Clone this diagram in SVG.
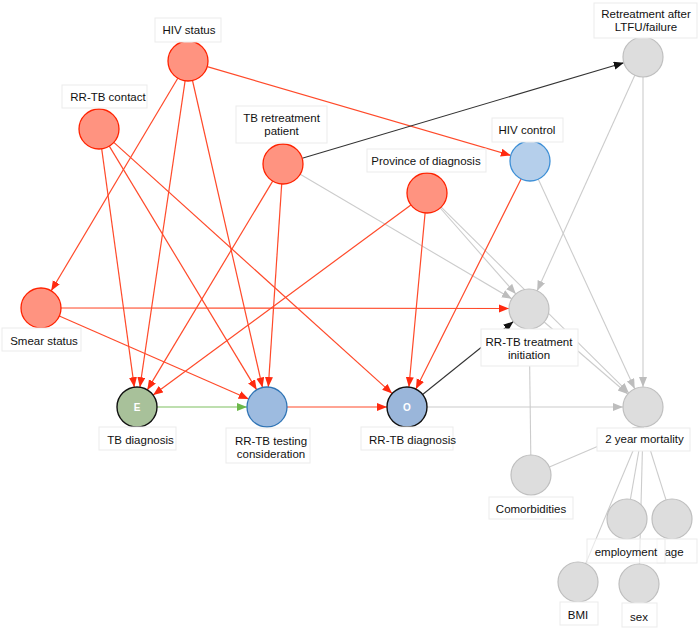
<svg xmlns="http://www.w3.org/2000/svg" width="700" height="631" viewBox="0 0 700 631">
<defs>
<marker id="ar" markerUnits="userSpaceOnUse" markerWidth="11" markerHeight="9" refX="10" refY="4" orient="auto"><path d="M0,0 L10,4 L0,8 z" fill="#ff2a10"/></marker>
<marker id="ag" markerUnits="userSpaceOnUse" markerWidth="11" markerHeight="9" refX="10" refY="4" orient="auto"><path d="M0,0 L10,4 L0,8 z" fill="#bdbdbd"/></marker>
<marker id="ak" markerUnits="userSpaceOnUse" markerWidth="11" markerHeight="9" refX="10" refY="4" orient="auto"><path d="M0,0 L10,4 L0,8 z" fill="#111"/></marker>
<marker id="agr" markerUnits="userSpaceOnUse" markerWidth="11" markerHeight="9" refX="10" refY="4" orient="auto"><path d="M0,0 L10,4 L0,8 z" fill="#6cb84a"/></marker>
</defs>
<style>
.r{stroke:#ff4a2a;stroke-width:1.2;fill:none;marker-end:url(#ar)}
.g{stroke:#cccccc;stroke-width:1.1;fill:none;marker-end:url(#ag)}
.k{stroke:#333333;stroke-width:1.1;fill:none;marker-end:url(#ak)}
.gr{stroke:#a9d494;stroke-width:1.3;fill:none;marker-end:url(#agr)}
.lb{fill:#ffffff;stroke:#ebebeb;stroke-width:1}
.t{font-family:"Liberation Sans",Arial,sans-serif;font-size:11.5px;fill:#111;text-anchor:middle}
.in{font-family:"Liberation Sans",Arial,sans-serif;font-size:10px;font-weight:bold;fill:#ffffff;text-anchor:middle}
.nr{fill:#ff9380;stroke:#ff2200;stroke-width:1.3}
.ngy{fill:#dddddd;stroke:#bfbfbf;stroke-width:1.2}
</style>
<rect width="700" height="631" fill="#ffffff"/>
<g id="connectors">
<line class="r" x1="207.2" y1="66.6" x2="510.8" y2="155.4"/>
<line class="r" x1="177.8" y1="78.2" x2="51.2" y2="290.8"/>
<line class="r" x1="185.1" y1="80.8" x2="139.9" y2="387.2"/>
<line class="r" x1="192.5" y1="80.5" x2="262.5" y2="387.5"/>
<line class="r" x1="101.7" y1="148.8" x2="134.3" y2="387.2"/>
<line class="r" x1="109.3" y1="146.1" x2="256.7" y2="389.9"/>
<line class="r" x1="113.8" y1="142.4" x2="392.2" y2="393.6"/>
<line class="r" x1="272.7" y1="181.1" x2="147.3" y2="389.9"/>
<line class="r" x1="281.7" y1="184.0" x2="268.3" y2="387.0"/>
<line class="k" x1="302.2" y1="158.3" x2="623.8" y2="62.7"/>
<line class="g" x1="300.2" y1="174.2" x2="511.8" y2="298.8"/>
<line class="r" x1="410.9" y1="204.9" x2="153.1" y2="395.1"/>
<line class="r" x1="425.1" y1="212.9" x2="408.9" y2="387.1"/>
<line class="g" x1="440.2" y1="208.0" x2="515.8" y2="294.0"/>
<line class="g" x1="441.2" y1="207.1" x2="628.8" y2="392.9"/>
<line class="r" x1="521.1" y1="178.9" x2="415.9" y2="389.1"/>
<line class="g" x1="538.3" y1="179.2" x2="634.7" y2="388.8"/>
<line class="g" x1="634.8" y1="75.2" x2="537.2" y2="290.8"/>
<line class="g" x1="643" y1="77" x2="643" y2="387"/>
<line class="r" x1="61" y1="308" x2="509" y2="308.5"/>
<line class="r" x1="59.3" y1="316.0" x2="248.7" y2="399.0"/>
<line class="gr" x1="157" y1="407" x2="247" y2="407"/>
<line class="r" x1="287" y1="407" x2="387" y2="407"/>
<line class="k" x1="422.6" y1="394.5" x2="513.4" y2="321.5"/>
<line class="g" x1="427" y1="407" x2="623" y2="407"/>
<line class="g" x1="544.2" y1="322.0" x2="627.8" y2="394.0"/>
<line class="g" x1="530.8" y1="455" x2="529.2" y2="329"/>
<line class="g" x1="549.4" y1="467.1" x2="643" y2="427"/>
<line class="g" x1="630.4" y1="499.3" x2="643" y2="427"/>
<line class="g" x1="666.0" y1="499.9" x2="643" y2="427"/>
<line class="g" x1="585.7" y1="563.6" x2="643" y2="427"/>
<line class="g" x1="639.5" y1="564" x2="643" y2="427"/>
</g>
<g id="hiv-status"><circle class="nr" cx="188" cy="61" r="20"/><rect class="lb" x="155" y="18" width="66" height="24"/><text class="t" x="189" y="34">HIV status</text></g>
<g id="rrtb-contact"><circle class="nr" cx="99" cy="129" r="20"/><rect class="lb" x="62" y="85" width="85" height="23"/><text class="t" x="108" y="101">RR-TB contact</text></g>
<g id="tb-retreatment"><circle class="nr" cx="283" cy="164" r="20"/><rect class="lb" x="236" y="106" width="91" height="37"/><text class="t" x="281.5" y="121.5">TB retreatment</text><text class="t" x="281.5" y="135">patient</text></g>
<g id="province"><circle class="nr" cx="427" cy="193" r="20"/><rect class="lb" x="367" y="149" width="119" height="23"/><text class="t" x="426" y="165">Province of diagnosis</text></g>
<g id="hiv-control"><circle cx="530" cy="161" r="20" fill="#b5cfeb" stroke="#3d8fd6" stroke-width="1.3"/><rect class="lb" x="492" y="118" width="71" height="24"/><text class="t" x="527" y="134">HIV control</text></g>
<g id="retreatment-ltfu"><circle class="ngy" cx="643" cy="57" r="20"/><rect class="lb" x="594" y="3" width="103" height="35"/><text class="t" x="646" y="18">Retreatment after</text><text class="t" x="646" y="31">LTFU/failure</text></g>
<g id="smear-status"><circle class="nr" cx="41" cy="308" r="20"/><rect class="lb" x="2" y="328" width="79" height="23"/><text class="t" x="44" y="345">Smear status</text></g>
<g id="tb-diagnosis"><circle cx="137" cy="407" r="20" fill="#a8c19a" stroke="#111" stroke-width="1.4"/><text class="in" x="137" y="411">E</text><rect class="lb" x="99" y="427" width="77" height="23"/><text class="t" x="140.5" y="444">TB diagnosis</text></g>
<g id="rrtb-testing"><circle cx="267" cy="407" r="20" fill="#9dbbe0" stroke="#2f74b5" stroke-width="1.3"/><rect class="lb" x="226" y="428" width="84" height="35"/><text class="t" x="271" y="445">RR-TB testing</text><text class="t" x="271" y="458">consideration</text></g>
<g id="rrtb-diagnosis"><circle cx="407" cy="407" r="20" fill="#9ab6da" stroke="#111" stroke-width="1.4"/><text class="in" x="407" y="411">O</text><rect class="lb" x="361" y="427" width="92" height="23"/><text class="t" x="412.5" y="444">RR-TB diagnosis</text></g>
<g id="rrtb-treatment"><circle class="ngy" cx="529" cy="309" r="20"/><rect class="lb" x="481" y="329" width="97" height="37"/><text class="t" x="529" y="346">RR-TB treatment</text><text class="t" x="529" y="359">initiation</text></g>
<g id="mortality"><circle class="ngy" cx="643" cy="407" r="20"/><rect class="lb" x="597" y="428" width="93" height="23"/><text class="t" x="644.5" y="443">2 year mortality</text></g>
<g id="comorbidities"><circle class="ngy" cx="531" cy="475" r="20"/><rect class="lb" x="489" y="497" width="84" height="22"/><text class="t" x="531" y="513">Comorbidities</text></g>
<g id="age"><circle class="ngy" cx="672" cy="519" r="20"/><rect class="lb" x="657" y="539" width="40" height="24"/><text class="t" x="674" y="556">age</text></g>
<g id="employment"><circle class="ngy" cx="627" cy="519" r="20"/><rect class="lb" x="587" y="539" width="78" height="24" fill-opacity="0.55"/><text class="t" x="626" y="556">employment</text></g>
<g id="bmi"><circle class="ngy" cx="578" cy="582" r="20"/><rect class="lb" x="560" y="602" width="38" height="23"/><text class="t" x="578" y="619">BMI</text></g>
<g id="sex"><circle class="ngy" cx="639" cy="584" r="20"/><rect class="lb" x="622" y="603" width="35" height="24"/><text class="t" x="639" y="621">sex</text></g>
</svg>
